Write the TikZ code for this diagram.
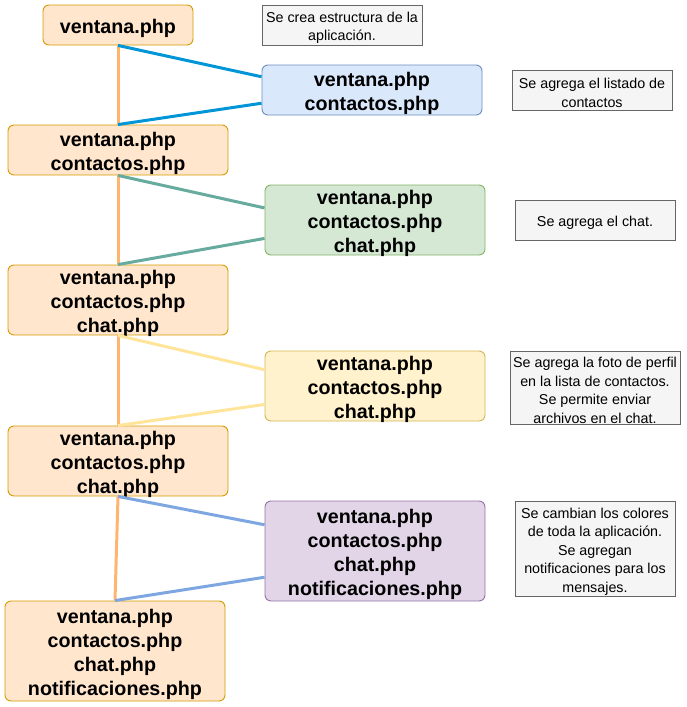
\documentclass[tikz,border=0pt]{standalone}
\usepackage{fontspec}
\setmainfont{Liberation Sans}
\usetikzlibrary{calc}
\definecolor{orf}{HTML}{FFE6CC}\definecolor{ors}{HTML}{D79B00}
\definecolor{blf}{HTML}{DAE8FC}\definecolor{bls}{HTML}{6C8EBF}
\definecolor{grf}{HTML}{D5E8D4}\definecolor{grs}{HTML}{82B366}
\definecolor{yef}{HTML}{FFF2CC}\definecolor{yes}{HTML}{D6B656}
\definecolor{puf}{HTML}{E1D5E7}\definecolor{pus}{HTML}{9673A6}
\definecolor{nof}{HTML}{F5F5F5}\definecolor{nos}{HTML}{666666}
\definecolor{vline}{HTML}{FFB570}
\definecolor{cblue}{HTML}{0095D6}
\definecolor{cgreen}{HTML}{67AB9F}
\definecolor{cyellow}{HTML}{FFE599}
\definecolor{cpurple}{HTML}{7EA6E0}
\tikzset{
  filebox/.style={draw, line width=0.9pt, rounded corners=6pt, inner sep=0pt},
  filetext/.style={align=center, inner sep=0pt, yshift=-3.5pt,
    font=\fontsize{19.7}{24}\selectfont\bfseries},
  notebox/.style={draw=nos, fill=nof, line width=0.9pt, inner sep=0pt},
  notetext/.style={align=center, inner sep=0pt, yshift=-3pt,
    font=\fontsize{14.3}{18.6}\selectfont},
  vconn/.style={draw=vline, line width=3pt},
  conn/.style={line width=3pt},
}
\begin{document}
\begin{tikzpicture}[x=1pt,y=-1pt]
\useasboundingbox (0,0) rectangle (686,707);
% left boxes
\node[filebox, fill=orf, draw=ors, minimum width=150pt, minimum height=40pt] (L1) at (118,25) {};
\node[filebox, fill=orf, draw=ors, minimum width=220pt, minimum height=50pt] (L2) at (118,150) {};
\node[filebox, fill=orf, draw=ors, minimum width=220pt, minimum height=70pt] (L3) at (118,300) {};
\node[filebox, fill=orf, draw=ors, minimum width=220pt, minimum height=70pt] (L4) at (118,461) {};
\node[filebox, fill=orf, draw=ors, minimum width=220pt, minimum height=100pt] (L5) at (115,651) {};
\node[filetext] (L1t) at (L1.center) {ventana.php};
\node[filetext] (L2t) at (L2.center) {ventana.php\\contactos.php};
\node[filetext] (L3t) at (L3.center) {ventana.php\\contactos.php\\chat.php};
\node[filetext] (L4t) at (L4.center) {ventana.php\\contactos.php\\chat.php};
\node[filetext] (L5t) at (L5.center) {ventana.php\\contactos.php\\chat.php\\notificaciones.php};
% right boxes
\node[filebox, fill=blf, draw=bls, minimum width=220pt, minimum height=50pt] (R1) at (372,90) {};
\node[filebox, fill=grf, draw=grs, minimum width=220pt, minimum height=70pt] (R2) at (375,220) {};
\node[filebox, fill=yef, draw=yes, minimum width=220pt, minimum height=70pt] (R3) at (375,386) {};
\node[filebox, fill=puf, draw=pus, minimum width=220pt, minimum height=100pt] (R4) at (375,551) {};
\node[filetext] (R1t) at (R1.center) {ventana.php\\contactos.php};
\node[filetext] (R2t) at (R2.center) {ventana.php\\contactos.php\\chat.php};
\node[filetext] (R3t) at (R3.center) {ventana.php\\contactos.php\\chat.php};
\node[filetext] (R4t) at (R4.center) {ventana.php\\contactos.php\\chat.php\\notificaciones.php};
% notes
\node[notebox, minimum width=160pt, minimum height=40pt] (N1) at (342,25) {};
\node[notebox, minimum width=160pt, minimum height=40pt] (N2) at (592,90) {};
\node[notebox, minimum width=160pt, minimum height=40pt] (N3) at (595,220) {};
\node[notebox, minimum width=170pt, minimum height=73pt] (N4) at (595,387.5) {};
\node[notebox, minimum width=160pt, minimum height=95pt] (N5) at (595,548.5) {};
\node[notetext] (N1t) at (N1.center) {Se crea estructura de la\\aplicación.};
\node[notetext] (N2t) at (N2.center) {Se agrega el listado de\\contactos};
\node[notetext] (N3t) at (N3.center) {Se agrega el chat.};
\node[notetext] (N4t) at (N4.center) {Se agrega la foto de perfil\\en la lista de contactos.\\Se permite enviar\\archivos en el chat.};
\node[notetext] (N5t) at (N5.center) {Se cambian los colores\\de toda la aplicación.\\Se agregan\\notificaciones para los\\mensajes.};
% vertical connectors
\draw[vconn] (L1.south) -- (L2.north);
\draw[vconn] (L2.south) -- (L3.north);
\draw[vconn] (L3.south) -- (L4.north);
\draw[vconn] (L4.south) -- (L5.north);
% branch connectors
\draw[conn, draw=cblue] (L1.south) -- ($(R1.north west)!0.24!(R1.south west)$);
\draw[conn, draw=cblue] ($(R1.north west)!0.76!(R1.south west)$) -- (L2.north);
\draw[conn, draw=cgreen] (L2.south) -- ($(R2.north west)!0.33!(R2.south west)$);
\draw[conn, draw=cgreen] ($(R2.north west)!0.76!(R2.south west)$) -- (L3.north);
\draw[conn, draw=cyellow] (L3.south) -- ($(R3.north west)!0.27!(R3.south west)$);
\draw[conn, draw=cyellow] ($(R3.north west)!0.76!(R3.south west)$) -- (L4.north);
\draw[conn, draw=cpurple] (L4.south) -- ($(R4.north west)!0.24!(R4.south west)$);
\draw[conn, draw=cpurple] ($(R4.north west)!0.76!(R4.south west)$) -- (L5.north);
\end{tikzpicture}
\end{document}
